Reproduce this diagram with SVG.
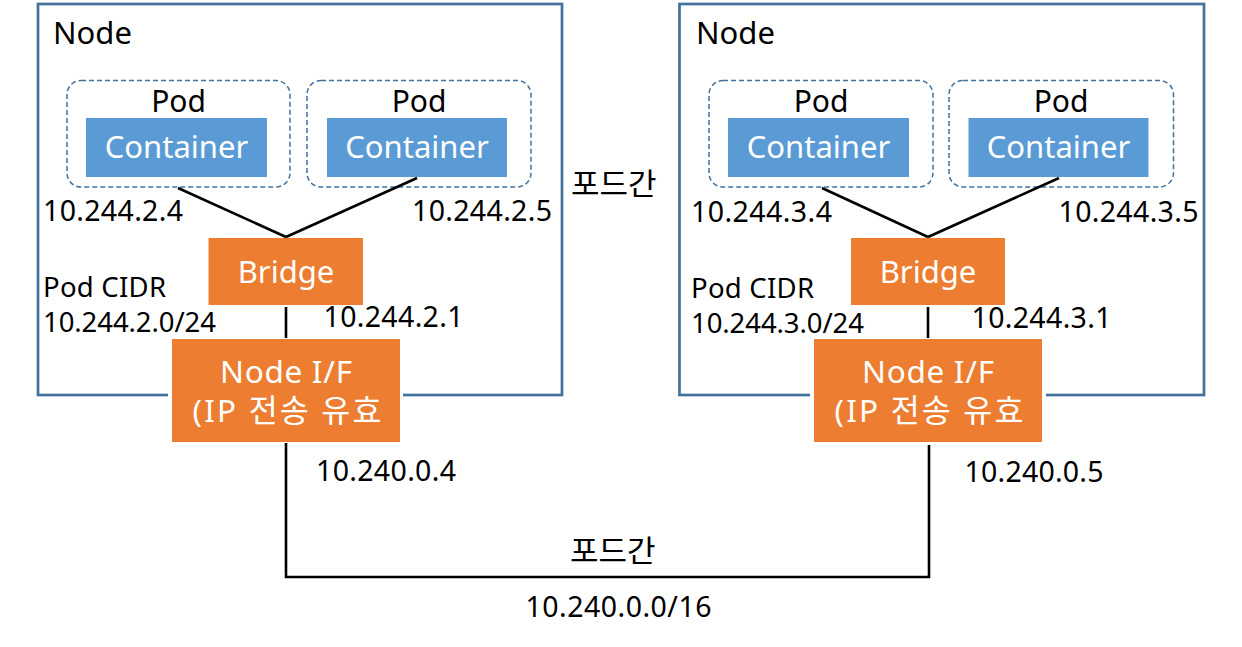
<svg xmlns="http://www.w3.org/2000/svg" width="1242" height="647" viewBox="0 0 1242 647">
<style>
  text { font-family: "Noto Sans", "Noto Sans CJK KR", sans-serif; fill: #000; }
  .node { fill: #fff; stroke: #41719C; stroke-width: 2.7; }
  .pod { fill: #fff; stroke: #41719C; stroke-width: 1.5; stroke-dasharray: 5 3; }
  .cont { fill: #5B9BD5; }
  .orange { fill: #ED7D31; }
  .gap { fill: #fff; }
  .w { fill: #fff; }
  .t31 { font-size: 31px; }
  .t30 { font-size: 30px; }
  .t32 { font-size: 31.5px; }
  .t29 { font-size: 28.5px; }
  .t28 { font-size: 27.5px; }
  .mid { text-anchor: middle; }
  .conn { stroke: #000; stroke-width: 2.6; fill: none; }
</style>
<rect width="1242" height="647" fill="#fff"/>

<g id="node-left">
  <rect class="node" x="38" y="4" width="524" height="391"/>
  <text class="t31" x="53" y="44">Node</text>
</g>
<g id="node-right">
  <rect class="node" x="679.5" y="4" width="524.5" height="391"/>
  <text class="t31" x="696" y="44">Node</text>
</g>

<g id="pod-1">
  <rect class="pod" x="67" y="80.5" width="223" height="106.5" rx="14"/>
  <text class="t30 mid" x="178.5" y="112">Pod</text>
  <rect class="cont" x="86" y="118" width="181" height="59"/>
  <text class="t31 mid w" x="176.5" y="158">Container</text>
</g>
<g id="pod-2">
  <rect class="pod" x="307" y="80.5" width="224" height="106.5" rx="14"/>
  <text class="t30 mid" x="419" y="112">Pod</text>
  <rect class="cont" x="327" y="118" width="180" height="59"/>
  <text class="t31 mid w" x="417" y="158">Container</text>
</g>
<g id="pod-3">
  <rect class="pod" x="709" y="80.5" width="224" height="106.5" rx="14"/>
  <text class="t30 mid" x="821" y="112">Pod</text>
  <rect class="cont" x="728" y="118" width="181" height="59"/>
  <text class="t31 mid w" x="818.5" y="158">Container</text>
</g>
<g id="pod-4">
  <rect class="pod" x="949" y="80.5" width="224.5" height="106.5" rx="14"/>
  <text class="t30 mid" x="1061" y="112">Pod</text>
  <rect class="cont" x="968.5" y="118" width="180" height="59"/>
  <text class="t31 mid w" x="1058.5" y="158">Container</text>
</g>

<g id="bridge-left">
  <rect class="orange" x="208.5" y="238" width="154.5" height="67"/>
  <text class="t31 mid w" x="286" y="283">Bridge</text>
</g>
<g id="bridge-right">
  <rect class="orange" x="851" y="238" width="154" height="67"/>
  <text class="t31 mid w" x="928" y="283">Bridge</text>
</g>

<g id="nodeif-left">
  <rect class="gap" x="168" y="335" width="235" height="111"/>
  <rect class="orange" x="172" y="339" width="228" height="103"/>
  <text class="t32 mid w" x="286" y="383" textLength="132" lengthAdjust="spacing">Node I/F</text>
  <text class="t32 mid w" x="287" y="422" textLength="189" lengthAdjust="spacing">(IP 전송 유효</text>
</g>
<g id="nodeif-right">
  <rect class="gap" x="810" y="335" width="236" height="111"/>
  <rect class="orange" x="814" y="339" width="228" height="103"/>
  <text class="t32 mid w" x="928" y="383" textLength="132" lengthAdjust="spacing">Node I/F</text>
  <text class="t32 mid w" x="929" y="422" textLength="189" lengthAdjust="spacing">(IP 전송 유효</text>
</g>

<g id="connectors">
  <line class="conn" x1="178" y1="188" x2="286" y2="237"/>
  <line class="conn" x1="417" y1="178" x2="286" y2="237"/>
  <line class="conn" x1="822" y1="188" x2="928" y2="237"/>
  <line class="conn" x1="1059" y1="178" x2="928" y2="237"/>
  <line class="conn" x1="286" y1="307" x2="286" y2="338"/>
  <line class="conn" x1="928" y1="307" x2="928" y2="338"/>
  <polyline class="conn" points="286,443 286,577 929,577 929,445"/>
</g>

<g id="labels">
  <text class="t29" x="43" y="220.5" textLength="140" lengthAdjust="spacing">10.244.2.4</text>
  <text class="t29" x="412" y="220.5" textLength="140" lengthAdjust="spacing">10.244.2.5</text>
  <text class="t29" x="691" y="222" textLength="141" lengthAdjust="spacing">10.244.3.4</text>
  <text class="t29" x="1058.5" y="222" textLength="140" lengthAdjust="spacing">10.244.3.5</text>
  <text class="t28" x="43" y="297" textLength="123" lengthAdjust="spacing">Pod CIDR</text>
  <text class="t28" x="43" y="331.5" textLength="173" lengthAdjust="spacing">10.244.2.0/24</text>
  <text class="t28" x="691" y="298" textLength="123" lengthAdjust="spacing">Pod CIDR</text>
  <text class="t28" x="691" y="333" textLength="173" lengthAdjust="spacing">10.244.3.0/24</text>
  <text class="t29" x="323.5" y="327" textLength="140" lengthAdjust="spacing">10.244.2.1</text>
  <text class="t29" x="971.5" y="328" textLength="140" lengthAdjust="spacing">10.244.3.1</text>
  <text class="t29" x="316" y="481" textLength="140" lengthAdjust="spacing">10.240.0.4</text>
  <text class="t29" x="964.5" y="482" textLength="139" lengthAdjust="spacing">10.240.0.5</text>
  <text class="t31" x="571" y="195">포드간</text>
  <text class="t31" x="570" y="562">포드간</text>
  <text class="t29" x="525.5" y="617" textLength="186" lengthAdjust="spacing">10.240.0.0/16</text>
</g>
</svg>
